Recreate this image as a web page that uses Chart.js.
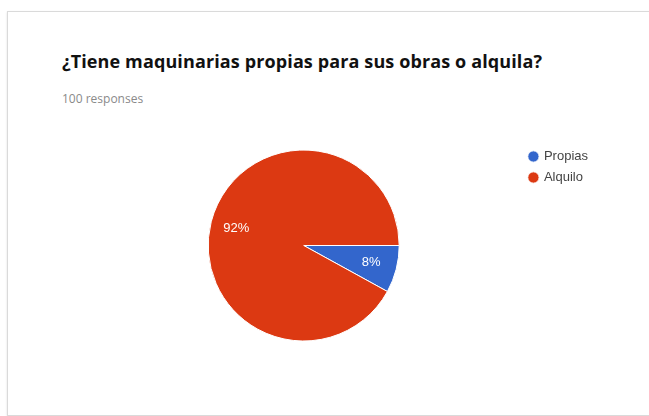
<!DOCTYPE html>
<html>
<head>
<meta charset="utf-8">
<script src="https://cdn.jsdelivr.net/npm/chart.js@4"></script>
<style>
  html, body { margin: 0; padding: 0; background: #fff; overflow: hidden; }
  body { width: 649px; height: 416px; position: relative; }
  .card {
    position: absolute; left: 7px; top: 11px; right: -40px; height: 403px;
    border: 1px solid #dadada; box-shadow: 0 1px 2px rgba(0,0,0,0.12);
    background: #fff;
  }
  .title {
    position: absolute; left: 62px; top: 49px; margin: 0;
    font: bold 18px "Open Sans", sans-serif; color: #111; white-space: nowrap;
    letter-spacing: 0.12px;
  }
  .sub {
    position: absolute; left: 62px; top: 90px;
    font: 12px "Open Sans", sans-serif; color: #8a8a8a; white-space: nowrap;
  }
  #chart { position: absolute; left: 0; top: 0; }
</style>
</head>
<body>
<div class="card"></div>
<div class="title">¿Tiene maquinarias propias para sus obras o alquila?</div>
<div class="sub">100 responses</div>
<canvas id="chart" width="649" height="416"></canvas>
<script>
const labels = ['Propias', 'Alquilo'];
const responses = [8, 92];
const colors = ['#3366cc', '#dc3912'];

// percentage text drawn inside each slice
const sliceLabels = {
    id: 'sliceLabels',
    afterDatasetsDraw(chart) {
        const ctx = chart.ctx;
        const meta = chart.getDatasetMeta(0);
        const data = chart.data.datasets[0].data;
        const total = data.reduce((a, b) => a + b, 0);
        ctx.save();
        ctx.fillStyle = '#ffffff';
        ctx.font = '13px "Liberation Sans", Arial, sans-serif';
        ctx.textAlign = 'center';
        ctx.textBaseline = 'middle';
        meta.data.forEach((arc, i) => {
            const p = arc.getProps(['x', 'y', 'startAngle', 'endAngle', 'outerRadius'], true);
            const mid = (p.startAngle + p.endAngle) / 2;
            const r = p.outerRadius * 0.73;
            const pct = Math.round(data[i] / total * 100) + '%';
            ctx.fillText(pct, p.x + Math.cos(mid) * r, p.y + Math.sin(mid) * r);
        });
        ctx.restore();
    }
};

new Chart(document.getElementById('chart'), {
    type: 'pie',
    data: {
        labels: labels,
        datasets: [{
            data: responses,
            backgroundColor: colors,
            borderColor: '#ffffff',
            borderWidth: 1,
            radius: 95.5
        }]
    },
    options: {
        responsive: false,
        animation: false,
        rotation: 90,
        layout: {
            padding: { left: 86, right: 51, top: 142, bottom: 67 }
        },
        plugins: {
            legend: {
                position: 'right',
                align: 'start',
                labels: {
                    usePointStyle: true,
                    pointStyle: 'circle',
                    boxWidth: 8,
                    boxHeight: 8,
                    padding: 8,
                    color: '#444',
                    font: { family: '"Liberation Sans", Arial, sans-serif', size: 13 }
                }
            },
            tooltip: { enabled: false }
        }
    },
    plugins: [sliceLabels]
});
</script>
</body>
</html>
